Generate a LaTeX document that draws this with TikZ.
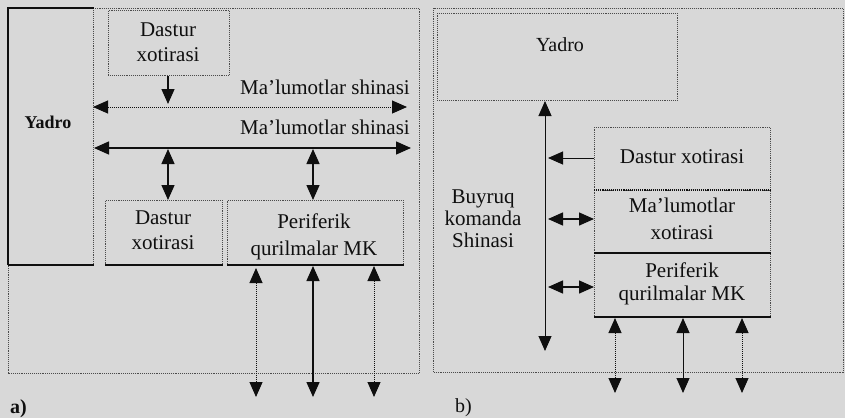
\documentclass[tikz,border=0pt]{standalone}
\usepackage{fontspec}
\setmainfont{Liberation Serif}
\usetikzlibrary{arrows.meta}
\definecolor{bg}{RGB}{216,216,216}
\definecolor{ink}{RGB}{15,15,15}
\definecolor{frm}{RGB}{75,75,75}
\begin{document}
\begin{tikzpicture}[x=1pt,y=-1pt,
  box/.style={draw=frm, densely dotted, line width=0.9pt, inner sep=0pt, anchor=north west},
  lbl/.style={text=ink, font=\fontsize{21}{25}\selectfont, align=center, inner sep=0pt},
  tip/.style={-{Triangle[length=15pt,width=13pt]}},
  dtip/.style={{Triangle[length=15pt,width=13pt]}-{Triangle[length=15pt,width=13pt]}},
  bus/.style={line width=1.4pt, draw=ink},
  thinbus/.style={line width=1pt, draw=ink},
  dbus/.style={line width=1pt, draw=ink, densely dotted},
  solidedge/.style={draw=ink, line width=1.3pt}]
\fill[bg] (0,0) rectangle (845,418);
\useasboundingbox (0,0) rectangle (845,418);

% ---------------- panel a ----------------
\draw[frm, densely dotted, line width=0.9pt] (8,264) -- (8,373) -- (419,373) -- (419,8) -- (93,8);
\node[box, minimum width=85pt, minimum height=256pt] (yadroA) at (8,8) {};
\draw[ink, line width=2.6pt] (yadroA.south west) -- (yadroA.north west) -- (yadroA.north east);
\draw[solidedge] (yadroA.south west) -- (yadroA.south east);
\node[lbl, font=\bfseries\fontsize{18}{20}\selectfont] (yadroAlbl) at (48,122) {Yadro};

\node[box, minimum width=121pt, minimum height=65pt] (dastA1) at (108,10) {};
\node[lbl] (dastA1lbl) at (168,42) {Dastur\\xotirasi};

\coordinate (dA1) at (168,104);
\draw[bus, tip] (dastA1.south -| dA1) -- (dA1);

\coordinate (b1L) at (93,107);
\coordinate (b1R) at (407,107);
\draw[dbus, dtip] (b1L) -- (b1R);
\node[lbl, anchor=east] (t1) at (410,87) {Ma’lumotlar shinasi};

\coordinate (b2L) at (94,148);
\coordinate (b2R) at (411,148);
\draw[bus, dtip] (b2L) -- (b2R);
\node[lbl, anchor=east] (t2) at (410,127) {Ma’lumotlar shinasi};

\node[box, minimum width=117pt, minimum height=64pt] (dastA2) at (105,200) {};
\draw[solidedge] (dastA2.south west) -- (dastA2.south east);
\node[lbl] (dastA2lbl) at (163,230) {Dastur\\xotirasi};

\node[box, minimum width=176pt, minimum height=64pt] (periA) at (227,200) {};
\draw[solidedge] (periA.south west) -- (periA.south east);
\node[lbl, font=\fontsize{21}{27}\selectfont] (periAlbl) at (314,237) {Periferik\\qurilmalar MK};

\coordinate (v1t) at (168,149);
\coordinate (v1b) at (168,200);
\draw[bus, dtip] (v1t) -- (v1b);
\coordinate (v2t) at (313,149);
\coordinate (v2b) at (313,200);
\draw[bus, dtip] (v2t) -- (v2b);

\coordinate (p1t) at (256,268);
\coordinate (p1b) at (256,397);
\draw[dbus, dtip] (p1t) -- (p1b);
\coordinate (p2t) at (313,266);
\coordinate (p2b) at (313,397);
\draw[bus, dtip] (p2t) -- (p2b);
\coordinate (p3t) at (374,266);
\coordinate (p3b) at (374,397);
\draw[dbus, dtip] (p3t) -- (p3b);

\node[lbl, font=\bfseries\fontsize{20}{22}\selectfont, anchor=west] (labA) at (10,409) {a)};

% ---------------- panel b ----------------
\draw[frm, densely dotted, line width=0.9pt] (433,8) rectangle (843,372);
\node[box, minimum width=240pt, minimum height=87pt] (yadroB) at (437,13) {};
\node[lbl, font=\fontsize{20}{25}\selectfont] (yadroBlbl) at (560,45) {Yadro};

\coordinate (busT) at (545,101);
\coordinate (busB) at (545,351);
\draw[thinbus, dtip] (busT) -- (busB);

\node[box, minimum width=176pt, minimum height=63pt] (dastB) at (594,127) {};
\node[lbl] (dastBlbl) at (682,157) {Dastur xotirasi};
\node[box, minimum width=176pt, minimum height=63pt] (malB) at (594,190) {};
\draw[draw=ink, line width=1.1pt, densely dotted] (malB.north west) -- (malB.north east);
\node[lbl, font=\fontsize{21}{27}\selectfont] (malBlbl) at (682,219) {Ma’lumotlar\\xotirasi};
\node[box, minimum width=176pt, minimum height=63pt] (periB) at (594,253) {};
\draw[solidedge] (periB.north west) -- (periB.north east);
\draw[solidedge] (periB.south west) -- (periB.south east);
\node[lbl, font=\fontsize{21}{23}\selectfont] (periBlbl) at (682,284) {Periferik\\qurilmalar MK};

\coordinate (aD) at (548,158);
\draw[thinbus, tip] (dastB.west |- aD) -- (aD);
\coordinate (aM) at (548,219);
\draw[bus, dtip] (aM) -- (malB.west |- aM);
\coordinate (aP) at (548,287);
\draw[bus, dtip] (aP) -- (periB.west |- aP);

\node[lbl, font=\fontsize{21}{22}\selectfont] (buyruq) at (483,219) {Buyruq\\komanda\\Shinasi};

\coordinate (q1t) at (615,318);
\coordinate (q1b) at (615,393);
\draw[dbus, dtip] (q1t) -- (q1b);
\coordinate (q2t) at (683,318);
\coordinate (q2b) at (683,393);
\draw[thinbus, dtip] (q2t) -- (q2b);
\coordinate (q3t) at (742,318);
\coordinate (q3b) at (742,393);
\draw[dbus, dtip] (q3t) -- (q3b);

\node[lbl, font=\fontsize{20}{22}\selectfont, anchor=west] (labB) at (455,408) {b)};
\end{tikzpicture}
\end{document}
